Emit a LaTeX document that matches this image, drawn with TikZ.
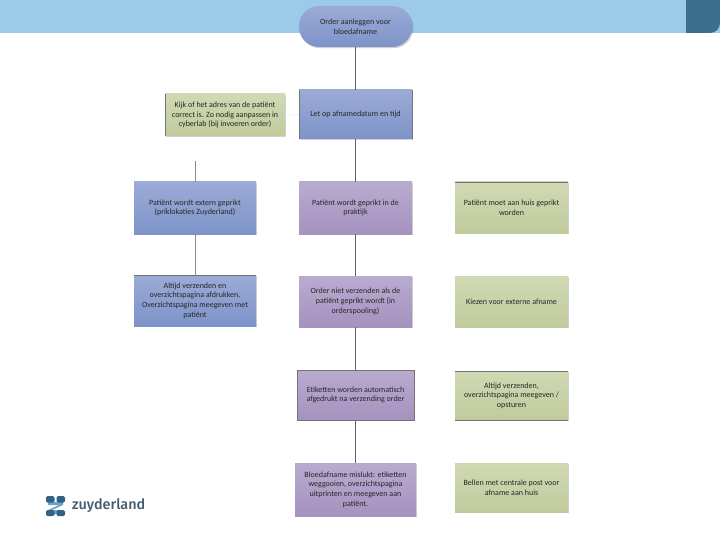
\documentclass[tikz,border=0pt]{standalone}
\usepackage{fontspec}
\setmainfont{Carlito}
\newfontfamily\logofont{Fira Sans Medium}
\usetikzlibrary{shadows}
\definecolor{hdr}{HTML}{9CCBE9}
\definecolor{hdrdark}{HTML}{3A6F8E}
\definecolor{logolight}{HTML}{6FA3C4}
\definecolor{logodark}{HTML}{2F6285}
\definecolor{logotext}{HTML}{3E5C72}
\definecolor{bluetop}{HTML}{9CABD6}
\definecolor{bluebot}{HTML}{7D93C9}
\definecolor{purptop}{HTML}{B9ABD0}
\definecolor{purpbot}{HTML}{A592BF}
\definecolor{greentop}{HTML}{D0D9B3}
\definecolor{greenbot}{HTML}{C0CB9D}
\tikzset{
  x=1pt,y=-1pt,
  boxbase/.style={inner sep=1pt,align=center,font=\fontsize{8}{9.6}\selectfont,text=black!85,
     drop shadow={opacity=.18,shadow xshift=1.2pt,shadow yshift=-1.2pt,fill=black}},
  bluebox/.style={boxbase,top color=bluetop,bottom color=bluebot},
  purplebox/.style={boxbase,top color=purptop,bottom color=purpbot},
  greenbox/.style={boxbase,top color=greentop,bottom color=greenbot},
  link/.style={draw=black!62,line width=.8pt},
  linklight/.style={draw=black!45,line width=.7pt},
  linkfaint/.style={draw=black!6,line width=.7pt},
  edge line/.style={black!55,line width=.5pt}
}
\begin{document}
\begin{tikzpicture}
\useasboundingbox (0,0) rectangle (720,540);
\fill[hdr] (0,0) rectangle (720,33);
\fill[hdrdark] (686,0) -- (720,0) -- (720,23) arc[start angle=0,end angle=-90,radius=10pt] -- (686,33) -- cycle;
\node[bluebox,rounded corners=20pt,minimum width=113pt,minimum height=41pt] (start) at (355.5,26.5) {Order aanleggen voor\\bloedafname};
\node[bluebox,minimum width=113pt,minimum height=49pt] (let) at (355.5,114.5) {Let op afnamedatum en tijd};
\node[greenbox,minimum width=120pt,minimum height=42pt] (adres) at (225,115) {Kijk of het adres van de patiënt\\correct is. Zo nodig aanpassen in\\cyberlab (bij invoeren order)};
\node[bluebox,minimum width=122pt,minimum height=52pt] (ext) at (195,208) {Patiënt wordt extern geprikt\\(priklokaties Zuyderland)};
\node[bluebox,minimum width=122pt,minimum height=51pt] (altijd) at (195,300.5) {Altijd verzenden en\\overzichtspagina afdrukken.\\Overzichtspagina meegeven met\\patiënt};
\node[purplebox,minimum width=113pt,minimum height=52pt] (prak) at (355.5,208) {Patiënt wordt geprikt in de\\praktijk};
\node[purplebox,minimum width=113pt,minimum height=51pt] (order) at (355.5,301.5) {Order niet verzenden als de\\patiënt geprikt wordt (in\\orderspooling)};
\node[purplebox,minimum width=117pt,minimum height=50pt] (etik) at (355.5,395) {Etiketten worden automatisch\\afgedrukt na verzending order};
\node[purplebox,minimum width=121pt,minimum height=53pt] (mis) at (355.5,489.5) {Bloedafname mislukt: etiketten\\weggooien, overzichtspagina\\uitprinten en meegeven aan\\patiënt.};
\node[greenbox,minimum width=113pt,minimum height=51pt] (huis) at (511.5,207.5) {Patiënt moet aan huis geprikt\\worden};
\node[greenbox,minimum width=113pt,minimum height=51pt] (kies) at (511.5,301.5) {Kiezen voor externe afname};
\node[greenbox,minimum width=113pt,minimum height=49pt] (verz) at (511.5,395.5) {Altijd verzenden,\\overzichtspagina meegeven /\\opsturen};
\node[greenbox,minimum width=113pt,minimum height=49pt] (bel) at (511.5,487.5) {Bellen met centrale post voor\\afname aan huis};
\coordinate (extfree) at (195,161);
\draw[link] (start.south) -- (let.north);
\draw[link] (let.south) -- (prak.north);
\draw[link] (prak.south) -- (order.north);
\draw[link] (order.south) -- (etik.north);
\draw[link] (etik.south) -- (mis.north);
\draw[linklight] (extfree) -- (ext.north);
\draw[linklight] (ext.south) -- (altijd.north);
\draw[linkfaint] (adres.east) -- (let.west);
% darker box edges seen in the reference
\draw[edge line] (let.south west) -- (let.north west) (let.north east) -- (let.south east);
\draw[edge line] (etik.north west) rectangle (etik.south east);
\draw[edge line] (altijd.north west) -- (altijd.north east);
\draw[edge line] (adres.south west) -- (adres.north west);
\draw[edge line] (huis.north west) -- (huis.north east);
\draw[edge line] (verz.north west) -- (verz.north east) (verz.south west) -- (verz.south east);
% logo
\fill[logolight] (48,502) -- (63,502) -- (63,505) -- (52,510) -- (63,510) -- (63,514) -- (48,514) -- (48,510) -- (59,505) -- (48,505) -- cycle;
\fill[logodark,rounded corners=1.5pt] (46,496) rectangle (54.5,502.5);
\fill[logodark,rounded corners=1.5pt] (56.5,496) rectangle (65,502.5);
\fill[logodark,rounded corners=1.5pt] (46,510) rectangle (54.5,516);
\fill[logodark,rounded corners=1.5pt] (56.5,510) rectangle (65,516);
\node[inner sep=0pt,anchor=west,text=logotext,font=\logofont\fontsize{14.4}{15}\selectfont] (brand) at (72,505.5) {zuyderland};
\end{tikzpicture}
\end{document}
